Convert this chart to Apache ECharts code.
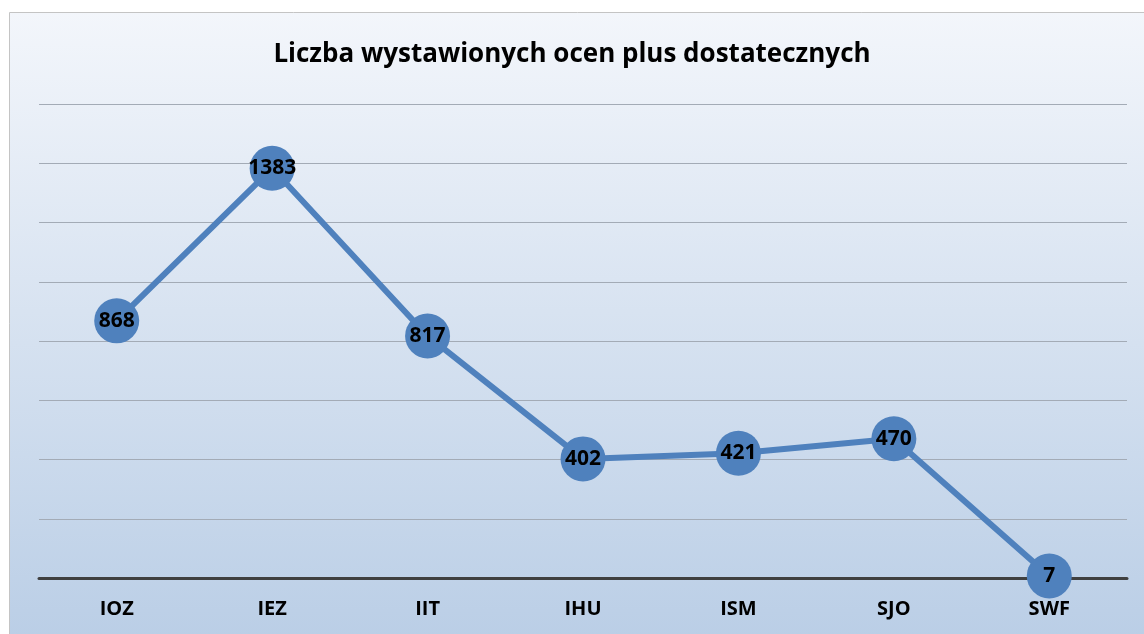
<!DOCTYPE html>
<html>
<head>
<meta charset="utf-8">
<script src="https://cdn.jsdelivr.net/npm/echarts@6/dist/echarts.min.js"></script>
<style>
  html, body { margin: 0; padding: 0; background: #fff; }
  #chart { width: 1144px; height: 634px; }
</style>
</head>
<body>
<div id="chart"></div>
<script>
// dane wykresu
const categories = ['IOZ', 'IEZ', 'IIT', 'IHU', 'ISM', 'SJO', 'SWF'];
const values = [868, 1383, 817, 402, 421, 470, 7];

const myChart = echarts.init(document.getElementById('chart'));

const option = {
  backgroundColor: '#ffffff',
  animation: false,
  graphic: [{
    type: 'rect',
    z: -10,
    silent: true,
    shape: { x: 9.5, y: 12.5, width: 1140, height: 630 },
    style: {
      fill: new echarts.graphic.LinearGradient(0, 0, 0, 1, [
        { offset: 0, color: '#f3f6fb' },
        { offset: 1, color: '#bacee6' }
      ]),
      stroke: '#c4c4c4',
      lineWidth: 1
    }
  }],
  title: {
    text: 'Liczba wystawionych ocen plus dostatecznych',
    left: 'center',
    top: 37,
    textStyle: {
      fontFamily: 'Open Sans',
      fontSize: 26,
      fontWeight: 'bold',
      color: '#000'
    }
  },
  grid: { left: 39, right: 17, top: 104, bottom: 56 },
  xAxis: {
    type: 'category',
    data: categories,
    boundaryGap: true,
    axisLine: { lineStyle: { color: '#404040', width: 3 } },
    axisTick: { show: false },
    axisLabel: {
      margin: 21,
      fontFamily: 'Open Sans',
      fontSize: 20,
      fontWeight: 'bold',
      color: '#000'
    }
  },
  yAxis: {
    type: 'value',
    min: 0,
    max: 1600,
    interval: 200,
    axisLabel: { show: false },
    axisLine: { show: false },
    axisTick: { show: false },
    splitLine: { lineStyle: { color: '#a3abb6', width: 1 } }
  },
  series: [{
    type: 'line',
    data: values,
    symbol: 'circle',
    symbolSize: 45,
    lineStyle: { color: '#4f81bd', width: 6 },
    itemStyle: { color: '#4f81bd' },
    label: {
      show: true,
      position: 'inside',
      fontFamily: 'Open Sans',
      fontSize: 21,
      fontWeight: 'bold',
      color: '#000'
    },
    z: 3
  }]
};

myChart.setOption(option);
</script>
</body>
</html>
